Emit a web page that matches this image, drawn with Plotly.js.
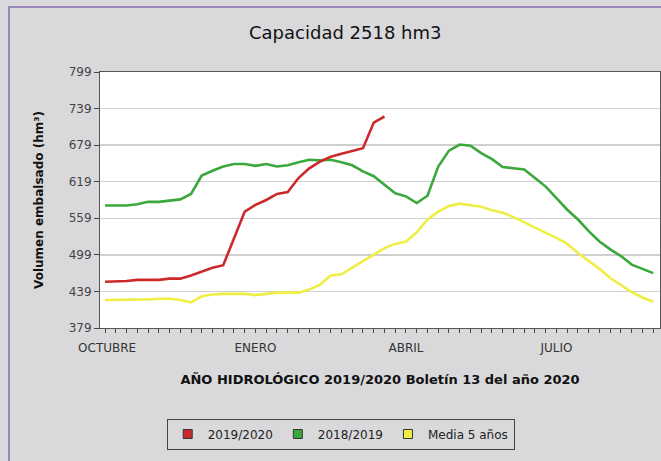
<!DOCTYPE html>
<html><head><meta charset="utf-8">
<script src="https://cdn.plot.ly/plotly-3.0.1.min.js"></script>
<style>
html,body{margin:0;padding:0;background:#d9d9dc;width:661px;height:461px;overflow:hidden;}
#frame{position:absolute;left:8px;top:6px;border-left:2px solid #9a86b8;border-top:2px solid #9a86b8;width:651px;height:453px;}
#chart{width:651px;height:453px;}
</style></head><body><div id="frame"><div id="chart"></div></div>
<script>
// Week index of the hydrological year (0 = first week of October)
const weeks = [0,1,2,3,4,5,6,7,8,9,10,11,12,13,14,15,16,17,18,19,20,21,22,23,24,25,
  26,27,28,29,30,31,32,33,34,35,36,37,38,39,40,41,42,43,44,45,46,47,48,49,50,51];
const seriesNames = ["2019/2020", "2018/2019", "Media 5 años"];
const vol2019_2020 = [455,455,456,458,458,458,460,460,465,472,478,482,527,570,581,589,
  599,602,625,641,652,660,665,669,674,716,726];
const vol2018_2019 = [580,580,580,582,586,586,588,590,599,629,637,644,648,648,645,648,
  644,646,651,655,654,655,651,646,636,628,614,600,595,584,596,644,670,680,678,666,656,
  643,641,639,625,611,592,573,557,538,521,508,497,483,476,469];
const media5 = [425,425,425,425,426,427,427,425,421,431,434,435,435,435,433,435,437,437,
  437,442,450,465,467,478,489,500,510,517,521,536,557,570,579,583,581,578,572,568,561,
  552,543,535,527,517,502,489,476,461,450,438,429,422];
const yTicks = [379,439,499,559,619,679,739,799];
const monthPos = [0.2, 14, 28, 42];
const monthLabels = ["OCTUBRE", "ENERO", "ABRIL", "JULIO"];

const colors = ["#cc2a2a", "#3aa83a", "#eeee44"];
const F = "DejaVu Sans";

const lineData = [media5, vol2018_2019, vol2019_2020];
const lineColors = [colors[2], colors[1], colors[0]];
const traces = [];
lineData.forEach((ys, k) => {
  traces.push({
    x: weeks.slice(0, ys.length), y: ys, type: "scatter", mode: "lines",
    line: {color: lineColors[k], width: 2.6}, showlegend: false, hoverinfo: "skip"
  });
});
seriesNames.forEach((n, k) => {
  traces.push({
    x: [null], y: [null], type: "scatter", mode: "markers", name: n,
    marker: {symbol: "square", size: 9, color: colors[k], line: {color: "#333", width: 1}}
  });
});

const layout = {
  width: 651, height: 453,
  margin: {l: 90, r: 1, t: 64, b: 133},
  paper_bgcolor: "#d9d9dc", plot_bgcolor: "#ffffff",
  font: {family: F, color: "#333"},
  title: {text: "Capacidad 2518 hm3", font: {family: F, size: 18, color: "#111"},
          x: 0.515, xref: "container", xanchor: "center", y: 0.945, yref: "container", yanchor: "middle"},
  xaxis: {
    range: [-0.465, 51.63], tickmode: "array", tickvals: monthPos, ticktext: monthLabels,
    ticks: "", showgrid: false, zeroline: false, ticklabelstandoff: 9,
    showline: true, mirror: true, linecolor: "#555", linewidth: 1,
    tickfont: {family: F, size: 12, color: "#333"},
    minor: {tickmode: "linear", tick0: 0, dtick: 1, ticks: "outside", ticklen: 4, tickcolor: "#444", tickwidth: 1, showgrid: false},
    title: {text: "AÑO HIDROLÓGICO 2019/2020 Boletín 13 del año 2020",
            font: {family: F, size: 13, weight: "bold", color: "#111"}, standoff: 20}
  },
  yaxis: {
    range: [379, 799], tickmode: "array", tickvals: yTicks,
    ticks: "outside", ticklen: 5, tickcolor: "#444",
    showgrid: true, gridcolor: "#cfcfcf", gridwidth: 1.5, zeroline: false,
    showline: true, mirror: true, linecolor: "#555", linewidth: 1,
    tickfont: {family: F, size: 12, color: "#444"},
    title: {text: "Volumen embalsado (hm³)", font: {family: F, size: 12, weight: "bold", color: "#111"}, standoff: 22}
  },
  legend: {
    orientation: "h", xref: "container", yref: "container",
    x: 0.508, xanchor: "center", y: 0.0596, yanchor: "middle",
    bgcolor: "rgba(0,0,0,0)", bordercolor: "#444", borderwidth: 1,
    font: {family: F, size: 12, color: "#222"}, itemwidth: 30
  }
};
Plotly.newPlot("chart", traces, layout, {staticPlot: true, displayModeBar: false});
</script></body></html>
